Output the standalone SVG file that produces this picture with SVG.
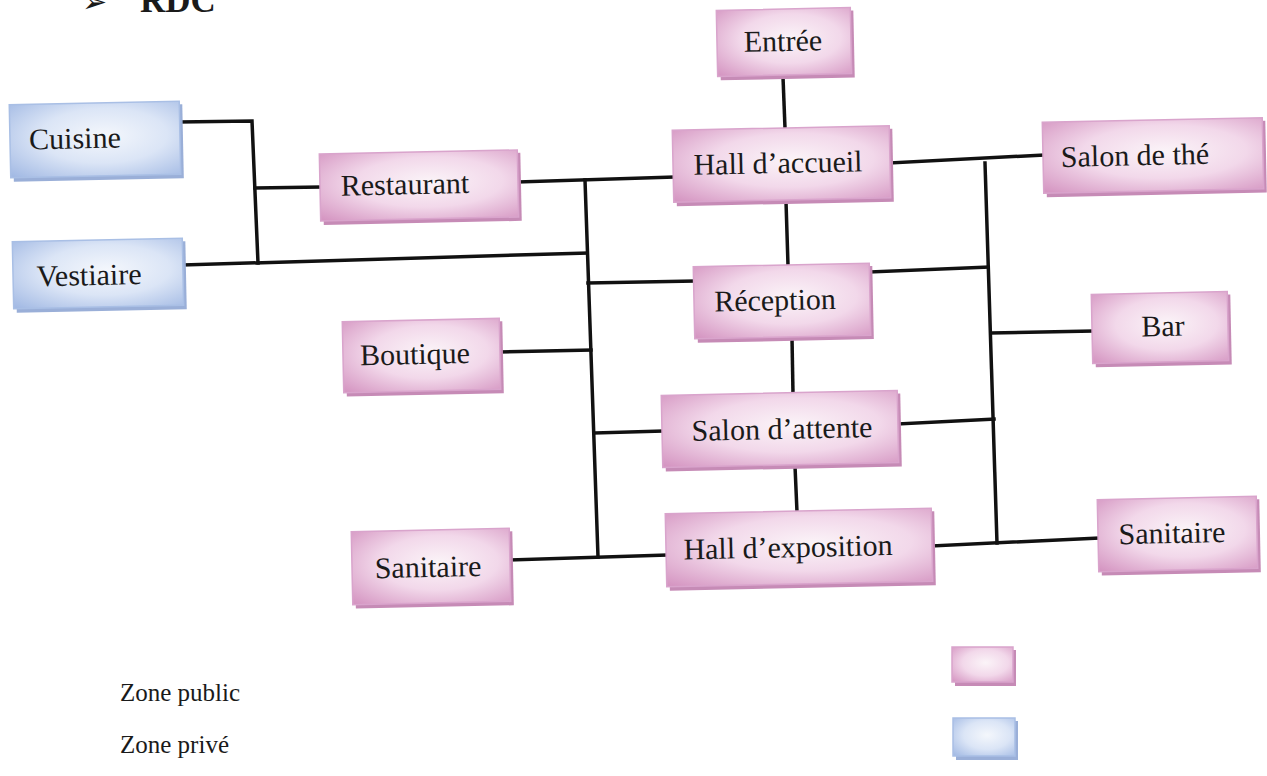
<svg xmlns="http://www.w3.org/2000/svg" width="1267" height="776" viewBox="0 0 1267 776">
  <defs>
    <radialGradient id="pinkG" cx="55%" cy="45%" r="75%">
      <stop offset="0%" stop-color="#fbf4f8"/>
      <stop offset="50%" stop-color="#f2d8ea"/>
      <stop offset="100%" stop-color="#d596c2"/>
    </radialGradient>
    <radialGradient id="blueG" cx="55%" cy="45%" r="75%">
      <stop offset="0%" stop-color="#f4f7fc"/>
      <stop offset="50%" stop-color="#dbe5f6"/>
      <stop offset="100%" stop-color="#a3bae4"/>
    </radialGradient>
    <style>
      .pub { fill: url(#pinkG); stroke: #d9a4cc; stroke-width: 1.5; }
      .pubsh { fill: #c68bb6; }
      .priv { fill: url(#blueG); stroke: #a9bfe5; stroke-width: 1.5; }
      .privsh { fill: #9aafd8; }
      .lbl { font-family: "Liberation Serif", "Times New Roman", serif; font-size: 30px; fill: #1a1a1a; text-anchor: middle; }
      .leg { font-family: "Liberation Serif", "Times New Roman", serif; font-size: 25px; fill: #1a1a1a; }
      .conn line, .conn polyline { stroke: #111; stroke-width: 3.5; fill: none; stroke-linecap: square; }
    </style>
  </defs>
  <rect width="1267" height="776" fill="#ffffff"/>

  <g id="title">
    <text x="82" y="12" font-family="DejaVu Sans, sans-serif" font-size="30" fill="#1a1a1a">➢</text>
    <text x="140" y="12" font-family="Liberation Serif, serif" font-weight="bold" font-size="35" fill="#1a1a1a">RDC</text>
  </g>

  <g class="conn" id="connectors">
    <line x1="783" y1="77" x2="785" y2="128"/>
    <line x1="786" y1="201" x2="788" y2="265"/>
    <line x1="792" y1="338" x2="793" y2="394"/>
    <line x1="795" y1="466" x2="797" y2="512"/>
    <line x1="518" y1="182" x2="673" y2="177"/>
    <line x1="585" y1="180" x2="598" y2="557"/>
    <line x1="183" y1="265" x2="587" y2="253"/>
    <polyline points="179,122 252,121 258,263"/>
    <line x1="255" y1="188" x2="320" y2="187"/>
    <line x1="588" y1="283" x2="694" y2="281"/>
    <line x1="500" y1="352" x2="591" y2="350"/>
    <line x1="595" y1="433" x2="662" y2="431"/>
    <line x1="510" y1="560" x2="666" y2="555"/>
    <line x1="890" y1="163" x2="1043" y2="155"/>
    <line x1="985" y1="163" x2="997" y2="543"/>
    <line x1="870" y1="272" x2="988" y2="267"/>
    <line x1="991" y1="333" x2="1092" y2="331"/>
    <line x1="898" y1="424" x2="994" y2="419"/>
    <line x1="932" y1="546" x2="1098" y2="538"/>
  </g>

  <g id="entree" transform="rotate(-1.2 784 43)">
    <rect class="pubsh" x="720" y="12" width="134" height="67"/>
    <rect class="pub" x="717" y="9" width="134" height="66"/>
    <text class="lbl" x="783" y="51">Entrée</text>
  </g>
  <g id="hall-accueil" transform="rotate(-1.2 781 164)">
    <rect class="pubsh" x="676" y="131" width="217" height="73"/>
    <rect class="pub" x="673" y="128" width="217" height="72"/>
    <text class="lbl" x="778" y="173">Hall d’accueil</text>
  </g>
  <g id="salon-the" transform="rotate(-1.2 1153 156)">
    <rect class="pubsh" x="1046" y="123" width="220" height="72"/>
    <rect class="pub" x="1043" y="120" width="220" height="71"/>
    <text class="lbl" x="1135" y="165">Salon de thé</text>
  </g>
  <g id="cuisine" transform="rotate(-1.2 95 140)">
    <rect class="privsh" x="13" y="106" width="170" height="74"/>
    <rect class="priv" x="10" y="103" width="170" height="73"/>
    <text class="lbl" x="75" y="148">Cuisine</text>
  </g>
  <g id="vestiaire" transform="rotate(-1.2 98 274)">
    <rect class="privsh" x="16" y="243" width="170" height="68"/>
    <rect class="priv" x="13" y="240" width="170" height="67"/>
    <text class="lbl" x="89" y="285">Vestiaire</text>
  </g>
  <g id="restaurant" transform="rotate(-1.2 419 186)">
    <rect class="pubsh" x="323" y="155" width="198" height="68"/>
    <rect class="pub" x="320" y="152" width="198" height="67"/>
    <text class="lbl" x="405" y="194">Restaurant</text>
  </g>
  <g id="reception" transform="rotate(-1.2 782 301)">
    <rect class="pubsh" x="697" y="268" width="176" height="73"/>
    <rect class="pub" x="694" y="265" width="176" height="72"/>
    <text class="lbl" x="775" y="310">Réception</text>
  </g>
  <g id="boutique" transform="rotate(-1.2 422 356)">
    <rect class="pubsh" x="346" y="323" width="157" height="72"/>
    <rect class="pub" x="343" y="320" width="157" height="71"/>
    <text class="lbl" x="415" y="364">Boutique</text>
  </g>
  <g id="bar" transform="rotate(-1.2 1160 328)">
    <rect class="pubsh" x="1095" y="296" width="136" height="70"/>
    <rect class="pub" x="1092" y="293" width="136" height="69"/>
    <text class="lbl" x="1163" y="336">Bar</text>
  </g>
  <g id="salon-attente" transform="rotate(-1.2 780 430)">
    <rect class="pubsh" x="665" y="396" width="236" height="73"/>
    <rect class="pub" x="662" y="393" width="236" height="72"/>
    <text class="lbl" x="782" y="439">Salon d’attente</text>
  </g>
  <g id="hall-exposition" transform="rotate(-1.2 799 548)">
    <rect class="pubsh" x="669" y="514" width="266" height="74"/>
    <rect class="pub" x="666" y="511" width="266" height="73"/>
    <text class="lbl" x="788" y="557">Hall d’exposition</text>
  </g>
  <g id="sanitaire-gauche" transform="rotate(-1.2 431 566)">
    <rect class="pubsh" x="355" y="533" width="158" height="74"/>
    <rect class="pub" x="352" y="530" width="158" height="73"/>
    <text class="lbl" x="428" y="577">Sanitaire</text>
  </g>
  <g id="sanitaire-droite" transform="rotate(-1.2 1177 534)">
    <rect class="pubsh" x="1101" y="501" width="159" height="73"/>
    <rect class="pub" x="1098" y="498" width="159" height="72"/>
    <text class="lbl" x="1172" y="543">Sanitaire</text>
  </g>

  <g id="legende">
    <text class="leg" x="120" y="701">Zone public</text>
    <text class="leg" x="120" y="753">Zone privé</text>
    <g id="swatch-public">
      <rect class="pubsh" x="955" y="650" width="61" height="36"/>
      <rect class="pub" x="952" y="647" width="61" height="35"/>
    </g>
    <g id="swatch-prive">
      <rect class="privsh" x="956" y="721" width="62" height="39"/>
      <rect class="priv" x="953" y="718" width="62" height="38"/>
    </g>
  </g>
</svg>
